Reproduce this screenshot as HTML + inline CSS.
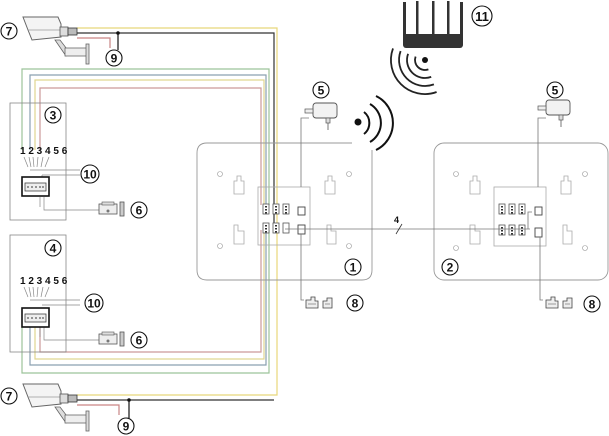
<!DOCTYPE html>
<html><head><meta charset="utf-8"><style>
html,body{margin:0;padding:0;background:#fff;width:609px;height:436px;overflow:hidden}
svg{display:block}
text{font-family:"Liberation Sans",sans-serif;font-weight:bold;fill:#111}
</style></head><body>
<svg width="609" height="436" viewBox="0 0 609 436" xmlns="http://www.w3.org/2000/svg">
<defs>
<g id="cam">
  <polygon points="23,17 58,17 61,24 61,37 32,40 28,30" fill="#f4f4f4" stroke="#666" stroke-width="1"/>
  <polyline points="28,30 61,30" fill="none" stroke="#999" stroke-width="0.8"/>
  <rect x="60" y="27" width="8" height="9" fill="#ddd" stroke="#555" stroke-width="0.8"/>
  <rect x="68" y="28" width="9" height="7" fill="#bbb" stroke="#333" stroke-width="0.8"/>
  <polygon points="55,40 60,40 70,53 66,56" fill="#ddd" stroke="#666" stroke-width="0.8"/>
  <rect x="65" y="48" width="22" height="8" fill="#eee" stroke="#666" stroke-width="0.8"/>
  <rect x="86" y="44" width="3" height="20" fill="#ddd" stroke="#666" stroke-width="0.8"/>
</g>
<g id="term">
  <rect x="0" y="0" width="6" height="10" fill="#fff" stroke="#555" stroke-width="0.8"/>
  <rect x="2" y="2" width="2" height="1.5" fill="#333"/><rect x="2" y="5" width="2" height="1.5" fill="#333"/><rect x="2" y="8" width="2" height="1.5" fill="#333"/>
</g>
<g id="mnt">
  <circle cx="0" cy="0" r="2.5" fill="none" stroke="#999" stroke-width="0.6"/>
</g>
<g id="lock">
  <rect x="0" y="2" width="18" height="10" fill="#eee" stroke="#555" stroke-width="0.8"/>
  <rect x="3" y="0" width="12" height="3" fill="#ddd" stroke="#555" stroke-width="0.6"/>
  <circle cx="9" cy="9" r="1.5" fill="#777"/>
  <rect x="21" y="0" width="4" height="14" fill="#ccc" stroke="#555" stroke-width="0.8"/>
</g>
<g id="conn">
  <rect x="0" y="0" width="27" height="19" fill="#fff" stroke="#111" stroke-width="1.6"/>
  <rect x="3" y="6" width="21" height="8" fill="#eee" stroke="#444" stroke-width="0.8"/>
  <g fill="#777"><circle cx="6" cy="10" r="1"/><circle cx="10" cy="10" r="1"/><circle cx="14" cy="10" r="1"/><circle cx="18" cy="10" r="1"/><circle cx="21" cy="10" r="1"/></g>
</g>
<g id="adapter">
  <rect x="0" y="0" width="24" height="15" rx="3" fill="#f2f2f2" stroke="#555" stroke-width="0.9"/>
  <rect x="13" y="15" width="4" height="5" fill="#ddd" stroke="#555" stroke-width="0.7"/>
  <line x1="15" y1="20" x2="15" y2="27" stroke="#555" stroke-width="0.8"/>
  <rect x="-8" y="6" width="8" height="4" fill="#eee" stroke="#555" stroke-width="0.7"/>
</g>
<g id="btn8">
  <path d="M0,4 h5 v-3 h4 v4 h3 v7 h-12z" fill="#eee" stroke="#444" stroke-width="0.8"/>
  <path d="M17,5 h4 v-3 h5 v10 h-9z" fill="#eee" stroke="#444" stroke-width="0.8"/>
  <line x1="2" y1="8" x2="10" y2="8" stroke="#444" stroke-width="0.5"/>
  <line x1="19" y1="8" x2="24" y2="8" stroke="#444" stroke-width="0.5"/>
</g>
</defs>

<g fill="none" stroke-width="1.2">
 <polyline points="77,28 277,28 277,232" stroke="#e8d77a"/>
 <polyline points="77,33 274,33 274,232" stroke="#333"/>
 <polyline points="77,38 110,38 110,48" stroke="#c98585"/>
 <polyline points="22,150 22,69 269,69 269,205" stroke="#9cc39a"/>
 <polyline points="30,150 30,75 266,75 266,205" stroke="#8aa0b0"/>
 <polyline points="35,150 35,80 264,80 264,205" stroke="#e0d690"/>
 <polyline points="40,150 40,88 261,88 261,205" stroke="#c99"/>
 <polyline points="40,327 40,352 261,352 261,230" stroke="#c99"/>
 <polyline points="35,327 35,359 264,359 264,230" stroke="#e0d690"/>
 <polyline points="30,327 30,365 266,365 266,230" stroke="#8aa0b0"/>
 <polyline points="22,327 22,373 269,373 269,230" stroke="#9cc39a"/>
 <polyline points="77,395 277,395 277,232" stroke="#e8d77a"/>
 <polyline points="77,400 274,400" stroke="#333"/>
 <polyline points="77,405 119,405 119,415" stroke="#c98585"/>
</g>
<circle cx="118" cy="33" r="1.8" fill="#111"/>
<line x1="118" y1="33" x2="118" y2="50" stroke="#111" stroke-width="1.2"/>
<circle cx="129" cy="400" r="1.8" fill="#111"/>
<line x1="129" y1="400" x2="129" y2="418" stroke="#111" stroke-width="1.2"/>

<use href="#cam"/>
<use href="#cam" transform="translate(0,367)"/>

<rect x="10" y="103" width="56" height="117" fill="none" stroke="#888" stroke-width="0.8"/>
<rect x="10" y="235" width="56" height="117" fill="none" stroke="#888" stroke-width="0.8"/>
<text x="20" y="154" font-size="10">1 2 3 4 5 6</text>
<text x="20" y="284" font-size="10">1 2 3 4 5 6</text>
<g fill="none" stroke="#888" stroke-width="0.7">
 <path d="M24,157 l4,10 M29,157 l2,10 M33,157 l1,10 M38,157 l-1,10 M43,157 l-2,10 M49,157 l-4,10"/>
 <path d="M30,170 H80 M42,175 H80 M42,175 V178"/>
 <path d="M24,287 l4,10 M29,287 l2,10 M33,287 l1,10 M38,287 l-1,10 M43,287 l-2,10 M49,287 l-4,10"/>
 <path d="M30,300 H80 M42,305 H80"/>
 <path d="M44,197 V210 H100 M40,197 V207"/>
 <path d="M44,327 V340 H100 M40,327 V337"/>
</g>
<use href="#conn" transform="translate(22,177)"/>
<use href="#conn" transform="translate(22,308)"/>
<use href="#lock" transform="translate(99,202)"/>
<use href="#lock" transform="translate(99,332)"/>

<path d="M352,143 H207 Q197,143 197,153 V270 Q197,280 207,280 H362 Q372,280 372,270 V150" fill="none" stroke="#999" stroke-width="0.9"/>
<rect x="434" y="143" width="174" height="137" rx="10" fill="none" stroke="#999" stroke-width="0.9"/>
<g fill="none" stroke="#aaa" stroke-width="0.8">
 <rect x="258" y="187" width="52" height="58"/>
 <rect x="494" y="187" width="52" height="59"/>
 <path d="M234,181 h3 v-5 h4 v5 h3 v13 h-10z"/><path d="M325,181 h3 v-5 h4 v5 h3 v13 h-10z"/>
 <path d="M234,225 h4 v6 h6 v13 h-10z"/><path d="M327,225 h4 v6 h5 v13 h-9z"/>
 <path d="M470,181 h3 v-5 h4 v5 h3 v13 h-10z"/><path d="M561,181 h3 v-5 h4 v5 h3 v13 h-10z"/>
 <path d="M470,225 h5 v6 h5 v13 h-10z"/><path d="M563,225 h4 v6 h5 v13 h-9z"/>
</g>
<use href="#mnt" transform="translate(220,174)"/><use href="#mnt" transform="translate(349,174)"/>
<use href="#mnt" transform="translate(220,246)"/><use href="#mnt" transform="translate(349,246)"/>
<use href="#mnt" transform="translate(456,174)"/><use href="#mnt" transform="translate(585,174)"/>
<use href="#mnt" transform="translate(456,248)"/><use href="#mnt" transform="translate(585,248)"/>
<use href="#term" transform="translate(263,204)"/><use href="#term" transform="translate(273,204)"/><use href="#term" transform="translate(283,204)"/>
<use href="#term" transform="translate(263,223)"/><use href="#term" transform="translate(273,223)"/><rect x="283" y="223" width="6" height="10" fill="#fff" stroke="#555" stroke-width="0.8"/>
<use href="#term" transform="translate(499,204)"/><use href="#term" transform="translate(509,204)"/><use href="#term" transform="translate(519,204)"/>
<use href="#term" transform="translate(499,225)"/><use href="#term" transform="translate(509,225)"/><use href="#term" transform="translate(519,225)"/>
<rect x="298" y="207" width="7" height="8" fill="#fff" stroke="#444" stroke-width="0.9"/>
<rect x="298" y="225" width="7" height="9" fill="#fff" stroke="#444" stroke-width="0.9"/>
<rect x="535" y="207" width="7" height="8" fill="#fff" stroke="#444" stroke-width="0.9"/>
<rect x="535" y="228" width="7" height="9" fill="#fff" stroke="#444" stroke-width="0.9"/>
<g fill="none" stroke="#777" stroke-width="0.8">
 <path d="M285,229 H530 M528,229 V212 H532"/>
 <line x1="396" y1="234" x2="402" y2="224" stroke="#333"/>
 <path d="M301,187 V118 H309"/><path d="M538,187 V118 H546" />
 <path d="M301,234 V300 H304"/><path d="M540,237 V300 H543"/>
</g>
<text x="394" y="223" font-size="9" font-weight="normal">4</text>
<use href="#adapter" transform="translate(313,103)"/>
<use href="#adapter" transform="translate(546,100)"/>
<use href="#btn8" transform="translate(306,296)"/>
<use href="#btn8" transform="translate(546,296)"/>

<circle cx="358" cy="122" r="3.5" fill="#111"/>
<g fill="none" stroke="#111" stroke-width="2">
 <path d="M364,112 a14,14 0 0 1 0,22"/>
 <path d="M370,104 a22,22 0 0 1 0,38"/>
 <path d="M376,96 a30,30 0 0 1 0,54"/>
</g>
<circle cx="425" cy="60" r="3" fill="#111"/>
<g fill="none" stroke="#222" stroke-width="1.8">
 <path d="M428.4,69.4 A10,10 0 0 1 415.6,56.6"/>
 <path d="M431.2,76.9 A18,18 0 0 1 408.1,53.8"/>
 <path d="M433.9,84.4 A26,26 0 0 1 400.6,51.1"/>
 <path d="M436.6,92 A34,34 0 0 1 393,48.4"/>
</g>
<g fill="#333">
 <rect x="403" y="34" width="60" height="14" rx="3"/>
 <rect x="403" y="2" width="3" height="38"/><rect x="416" y="1" width="2.5" height="34"/><rect x="432" y="1" width="2.5" height="34"/><rect x="447" y="1" width="2.5" height="34"/><rect x="460" y="2" width="3" height="38"/>
</g>

<g fill="#fff" stroke="#111" stroke-width="1.1">
 <circle cx="9" cy="31" r="8"/><circle cx="114" cy="58" r="8"/>
 <circle cx="53" cy="115" r="8"/><circle cx="90" cy="174" r="9"/><circle cx="139" cy="210" r="8"/>
 <circle cx="53" cy="248" r="8"/><circle cx="94" cy="303" r="9"/><circle cx="139" cy="340" r="8"/>
 <circle cx="9" cy="396" r="8"/><circle cx="126" cy="426" r="8"/>
 <circle cx="321" cy="90" r="8"/><circle cx="555" cy="90" r="8"/>
 <circle cx="353" cy="267" r="8"/><circle cx="450" cy="267" r="8"/>
 <circle cx="355" cy="303" r="8"/><circle cx="592" cy="304" r="8"/>
 <circle cx="482" cy="16" r="10"/>
</g>
<g font-size="12" text-anchor="middle">
 <text x="9" y="35.5">7</text><text x="114" y="62.5">9</text>
 <text x="53" y="119.5">3</text><text x="90" y="178.5">10</text><text x="139" y="214.5">6</text>
 <text x="53" y="252.5">4</text><text x="94" y="307.5">10</text><text x="139" y="344.5">6</text>
 <text x="9" y="400.5">7</text><text x="126" y="430.5">9</text>
 <text x="321" y="94.5">5</text><text x="555" y="94.5">5</text>
 <text x="353" y="271.5">1</text><text x="450" y="271.5">2</text>
 <text x="355" y="307.5">8</text><text x="592" y="308.5">8</text>
 <text x="482" y="21" font-size="13">11</text>
</g>
</svg>
</body></html>
